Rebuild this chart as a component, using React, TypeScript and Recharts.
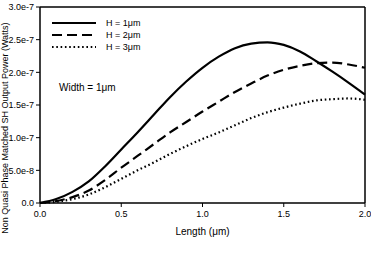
import React from 'react';
import {
  LineChart,
  Line,
  XAxis,
  YAxis,
  Legend,
  ReferenceLine,
} from 'recharts';

// Length along the waveguide (µm)
const lengths = [0, 0.1, 0.2, 0.3, 0.4, 0.5, 0.6, 0.7, 0.8, 0.9, 1.0, 1.1, 1.2, 1.3, 1.4, 1.5, 1.6, 1.7, 1.8, 1.9, 2.0];

// SH output power in Watts for each height
const powerH1 = [0, 0.06e-7, 0.17e-7, 0.33e-7, 0.56e-7, 0.82e-7, 1.08e-7, 1.35e-7, 1.62e-7, 1.86e-7, 2.07e-7, 2.24e-7, 2.37e-7, 2.44e-7, 2.46e-7, 2.42e-7, 2.32e-7, 2.17e-7, 2.01e-7, 1.84e-7, 1.66e-7];
const powerH2 = [0, 0.03e-7, 0.09e-7, 0.19e-7, 0.35e-7, 0.54e-7, 0.72e-7, 0.9e-7, 1.08e-7, 1.24e-7, 1.4e-7, 1.55e-7, 1.7e-7, 1.83e-7, 1.95e-7, 2.04e-7, 2.1e-7, 2.14e-7, 2.15e-7, 2.12e-7, 2.07e-7];
const powerH3 = [0, 0.02e-7, 0.06e-7, 0.13e-7, 0.24e-7, 0.37e-7, 0.5e-7, 0.62e-7, 0.75e-7, 0.87e-7, 0.98e-7, 1.08e-7, 1.19e-7, 1.3e-7, 1.39e-7, 1.46e-7, 1.52e-7, 1.57e-7, 1.59e-7, 1.6e-7, 1.58e-7];

const xTicks = [0, 0.5, 1, 1.5, 2];
const yTicks = [0, 5e-8, 1e-7, 1.5e-7, 2e-7, 2.5e-7, 3e-7];

const series = [
  { key: 'h1', name: 'H = 1\u03bcm', dash: undefined as string | undefined },
  { key: 'h2', name: 'H = 2\u03bcm', dash: '10 5' },
  { key: 'h3', name: 'H = 3\u03bcm', dash: '1.6 2.7' },
];

const data = lengths.map((l, i) => ({
  length: l,
  h1: powerH1[i],
  h2: powerH2[i],
  h3: powerH3[i],
}));

const font = 'Arial, "Liberation Sans", sans-serif';
const tickStyle = { fontSize: 9, fill: '#000', fontFamily: font };
const frame = { stroke: '#000', strokeWidth: 1.5 };

const formatY = (v: number) => (v === 0 ? '0.0' : v.toExponential(1));

const LegendBox = () => (
  <div style={{ fontFamily: font, fontSize: 9, color: '#000' }}>
    {series.map((s) => (
      <div key={s.key} style={{ display: 'flex', alignItems: 'center', height: 12 }}>
        <svg width={54} height={6}>
          <line x1={0} y1={3} x2={44} y2={3} stroke="#000" strokeWidth={2.2} strokeDasharray={s.dash} />
        </svg>
        <span>{s.name}</span>
      </div>
    ))}
  </div>
);

const App = () => {
  return (
    <div style={{ position: 'absolute', left: 0, top: 0, width: 371, height: 272, background: '#fff' }}>
      <LineChart
        width={371}
        height={272}
        data={data}
        margin={{ top: 7, right: 6, left: 0, bottom: 0 }}
      >
        <XAxis
          dataKey="length"
          type="number"
          domain={[0, 2]}
          ticks={xTicks}
          tickFormatter={(v: number) => v.toFixed(1)}
          tick={tickStyle}
          tickSize={4}
          tickMargin={4}
          height={33}
          axisLine={frame}
          tickLine={{ stroke: '#000', strokeWidth: 1 }}
          label={{ value: 'Length (\u03bcm)', position: 'insideBottom', offset: 1, style: { fontSize: 10, fill: '#000', fontFamily: font } }}
        />
        <YAxis
          type="number"
          domain={[0, 3e-7]}
          ticks={yTicks}
          tickFormatter={formatY}
          tick={tickStyle}
          tickSize={4}
          tickMargin={2}
          width={40}
          axisLine={frame}
          tickLine={{ stroke: '#000', strokeWidth: 1 }}
        />
        {/* top and right edges of the plot frame */}
        <ReferenceLine y={3e-7} stroke="#000" strokeWidth={1.5} />
        <ReferenceLine x={2} stroke="#000" strokeWidth={1.5} />
        <Legend
          content={<LegendBox />}
          wrapperStyle={{ position: 'absolute', left: 52, top: 17, width: 120 }}
        />
        {series.map((s) => (
          <Line
            key={s.key}
            type="monotone"
            dataKey={s.key}
            name={s.name}
            stroke="#000"
            strokeWidth={2.2}
            strokeDasharray={s.dash}
            dot={false}
            isAnimationActive={false}
          />
        ))}
      </LineChart>
      <div style={{ position: 'absolute', left: 59, top: 82, fontFamily: font, fontSize: 10, color: '#000' }}>
        Width = 1{'\u03bc'}m
      </div>
      <div
        style={{
          position: 'absolute',
          left: 5,
          top: 128,
          width: 270,
          textAlign: 'center',
          fontFamily: font,
          fontSize: 9,
          color: '#000',
          whiteSpace: 'nowrap',
          transform: 'translate(-50%, -50%) rotate(-90deg)',
          transformOrigin: 'center',
          lineHeight: '9px',
        }}
      >
        Non Quasi Phase Matched SH Output Power (Watts)
      </div>
    </div>
  );
};

export default App;
